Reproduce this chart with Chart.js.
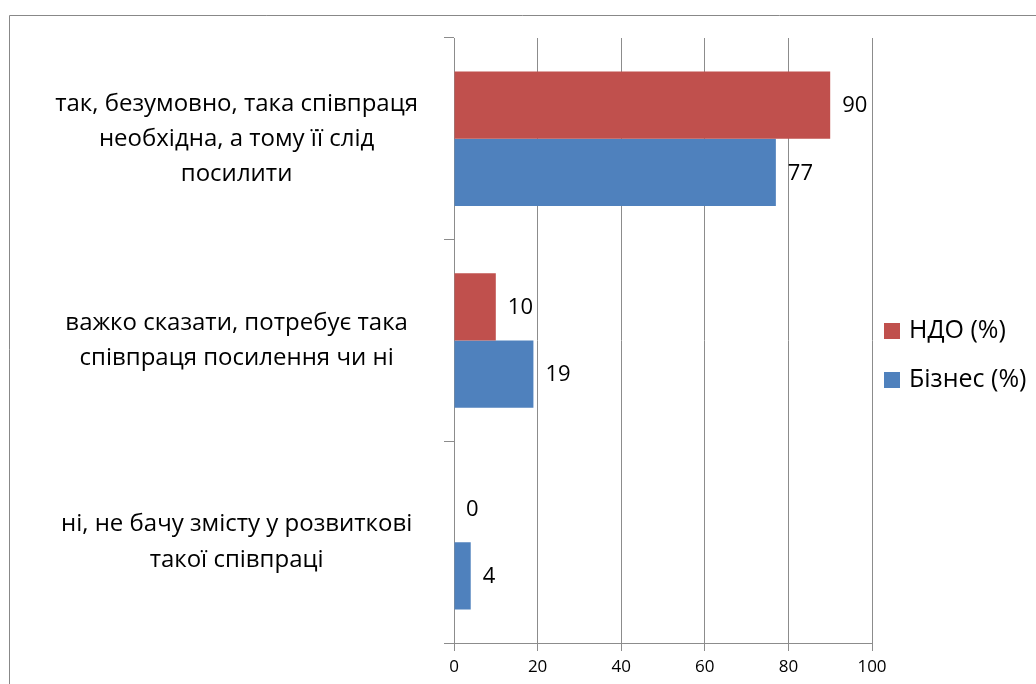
<!DOCTYPE html>
<html>
<head>
<meta charset="utf-8">
<script src="https://cdn.jsdelivr.net/npm/chart.js@4"></script>
<style>
  body { margin: 0; background: #fff; }
  canvas { display: block; }
</style>
</head>
<body>
<canvas id="barChart" width="1036" height="684"></canvas>
<script>
const categories = [
    ["так, безумовно, така співпраця", "необхідна, а тому її слід", "посилити"],
    ["важко сказати, потребує така", "співпраця посилення чи ні"],
    ["ні, не бачу змісту у розвиткові", "такої співпраці"]
];
const seriesNames = ["НДО (%)", "Бізнес (%)"];
const ndoValues = [90, 10, 0];
const bizValues = [77, 19, 4];
const xTicks = [0, 20, 40, 60, 80, 100];

const colors = ["#C0504D", "#4F81BD"];
const gridColor = "#8c8c8c";
const fontFamily = "'Open Sans', 'Noto Sans', sans-serif";

// outer frame (only top and left edges are visible in the picture)
const framePlugin = {
    id: "frame",
    beforeDraw(chart) {
        const ctx = chart.ctx;
        ctx.save();
        ctx.strokeStyle = "#888";
        ctx.lineWidth = 1;
        ctx.beginPath();
        ctx.moveTo(9.5, 684);
        ctx.lineTo(9.5, 15.5);
        ctx.lineTo(1036, 15.5);
        ctx.stroke();
        ctx.restore();
    }
};

// value labels to the right of each bar
const valueLabels = {
    id: "valueLabels",
    afterDatasetsDraw(chart) {
        const ctx = chart.ctx;
        ctx.save();
        ctx.font = "22px " + fontFamily;
        ctx.fillStyle = "#000";
        ctx.textAlign = "left";
        ctx.textBaseline = "middle";
        chart.data.datasets.forEach((ds, i) => {
            chart.getDatasetMeta(i).data.forEach((bar, j) => {
                ctx.fillText(ds.data[j], bar.x + 12, bar.y + 1);
            });
        });
        ctx.restore();
    }
};

// legend on the right side
const sideLegend = {
    id: "sideLegend",
    afterDraw(chart) {
        const ctx = chart.ctx;
        ctx.save();
        ctx.font = "25px " + fontFamily;
        ctx.textBaseline = "middle";
        ctx.textAlign = "left";
        const rows = [331, 380];
        chart.data.datasets.forEach((ds, i) => {
            ctx.fillStyle = ds.backgroundColor;
            ctx.fillRect(884, rows[i] - 8, 16, 16);
            ctx.fillStyle = "#000";
            ctx.fillText(ds.label, 909, rows[i]);
        });
        ctx.restore();
    }
};

new Chart(document.getElementById("barChart"), {
    type: "bar",
    data: {
        labels: categories,
        datasets: [
            { label: seriesNames[0], data: ndoValues, backgroundColor: colors[0] },
            { label: seriesNames[1], data: bizValues, backgroundColor: colors[1] }
        ]
    },
    options: {
        indexAxis: "y",
        responsive: false,
        animation: false,
        categoryPercentage: 0.667,
        barPercentage: 1.0,
        layout: { padding: { left: 0, right: 164, top: 38, bottom: 11 } },
        plugins: {
            legend: { display: false },
            tooltip: { enabled: false }
        },
        scales: {
            x: {
                min: 0,
                max: 100,
                afterBuildTicks(axis) {
                    axis.ticks = xTicks.map(v => ({ value: v }));
                },
                afterFit(axis) {
                    axis.height = 30;
                    axis.paddingLeft = 0;
                    axis.paddingRight = 0;
                },
                grid: { color: gridColor, tickLength: 8, tickColor: gridColor },
                border: { color: gridColor },
                ticks: {
                    color: "#000",
                    padding: 6,
                    font: { family: fontFamily, size: 17 }
                }
            },
            y: {
                afterFit(axis) {
                    axis.width = 454;
                    axis.paddingTop = 0;
                    axis.paddingBottom = 0;
                },
                grid: { drawOnChartArea: false, tickLength: 10, tickColor: gridColor, offset: true },
                border: { color: gridColor },
                ticks: {
                    color: "#000",
                    crossAlign: "center",
                    padding: 26,
                    font: { family: fontFamily, size: 24, lineHeight: 1.46 }
                }
            }
        }
    },
    plugins: [framePlugin, valueLabels, sideLegend]
});
</script>
</body>
</html>
